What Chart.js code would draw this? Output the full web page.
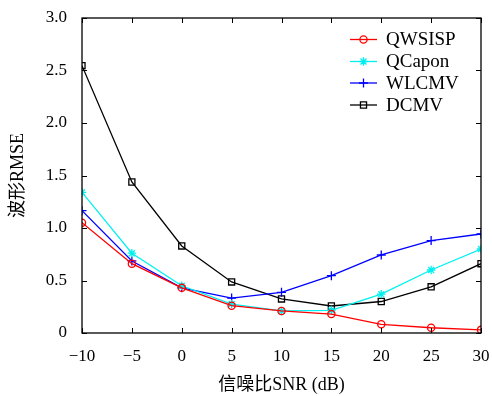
<!DOCTYPE html>
<html><head><meta charset="utf-8">
<script src="https://cdn.jsdelivr.net/npm/chart.js@4/dist/chart.umd.min.js"></script>
<style>html,body{margin:0;padding:0;background:#fff}#wrap{width:492px;height:396px}</style>
</head><body><div id="wrap"><canvas id="c" width="492" height="396"></canvas></div>
<script>
const snr = [-10, -5, 0, 5, 10, 15, 20, 25, 30];
const qwsisp = [1.05, 0.66, 0.43, 0.26, 0.21, 0.18, 0.083, 0.05, 0.03];
const qcapon = [1.34, 0.76, 0.45, 0.276, 0.21, 0.215, 0.37, 0.60, 0.80];
const wlcmv  = [1.165, 0.686, 0.43, 0.333, 0.387, 0.546, 0.743, 0.88, 0.943];
const dcmv   = [2.546, 1.438, 0.829, 0.486, 0.324, 0.257, 0.30, 0.44, 0.66];
const xTickLabels = ['\u221210', '\u22125', '0', '5', '10', '15', '20', '25', '30'];
const yTickLabels = ['0', '0.5', '1.0', '1.5', '2.0', '2.5', '3.0'];
const seriesNames = ['QWSISP', 'QCapon', 'WLCMV', 'DCMV'];

const FONT = "'Liberation Serif','DejaVu Serif',serif";
const CJK = "'Liberation Serif','Noto Sans CJK SC',serif";

function mk(name, vals, color, style, r) {
  return {
    label: name,
    data: snr.map((x, i) => ({x: x, y: vals[i]})),
    borderColor: color, backgroundColor: 'rgba(0,0,0,0)',
    borderWidth: 1.3, pointStyle: style, pointRadius: r, pointHoverRadius: r,
    pointBorderColor: color, pointBackgroundColor: 'rgba(0,0,0,0)', pointBorderWidth: 1.3,
    tension: 0, fill: false
  };
}

const frame = {
  id: 'frame',
  afterDraw(chart) {
    const ctx = chart.ctx, a = chart.chartArea;
    const xs = chart.scales.x, ys = chart.scales.y;
    ctx.save();
    ctx.strokeStyle = '#000'; ctx.lineWidth = 1.3;
    ctx.strokeRect(a.left, a.top, a.right - a.left, a.bottom - a.top);
    ctx.lineWidth = 1;
    const L = 5;
    xs.ticks.forEach(t => {
      const p = Math.round(xs.getPixelForValue(t.value)) + 0.5;
      ctx.beginPath();
      ctx.moveTo(p, a.bottom); ctx.lineTo(p, a.bottom - L);
      ctx.moveTo(p, a.top); ctx.lineTo(p, a.top + L);
      ctx.stroke();
    });
    ys.ticks.forEach(t => {
      const p = Math.round(ys.getPixelForValue(t.value)) + 0.5;
      ctx.beginPath();
      ctx.moveTo(a.left, p); ctx.lineTo(a.left + L, p);
      ctx.moveTo(a.right, p); ctx.lineTo(a.right - L, p);
      ctx.stroke();
    });
    // legend
    const lx0 = 350, lx1 = 377, tx = 386, rows = [39.5, 61.5, 83, 105];
    ctx.font = '19px ' + FONT;
    ctx.textBaseline = 'middle';
    chart.data.datasets.forEach((ds, i) => {
      const y = rows[i];
      ctx.strokeStyle = ds.borderColor; ctx.lineWidth = 1.3;
      ctx.beginPath(); ctx.moveTo(lx0, y); ctx.lineTo(lx1, y); ctx.stroke();
      ctx.fillStyle = 'rgba(0,0,0,0)';
      Chart.helpers.drawPoint(ctx, {pointStyle: ds.pointStyle, radius: ds.pointRadius, rotation: 0, borderWidth: 1.3}, (lx0 + lx1) / 2, y);
      ctx.fillStyle = '#000';
      ctx.fillText(seriesNames[i], tx, y + 1);
    });
    ctx.restore();
  }
};

new Chart(document.getElementById('c'), {
  type: 'line',
  data: { datasets: [
    mk(seriesNames[0], qwsisp, '#ff0000', 'circle', 3.6),
    mk(seriesNames[1], qcapon, '#00f0f0', 'star', 4.2),
    mk(seriesNames[2], wlcmv, '#0000ff', 'cross', 4.5),
    mk(seriesNames[3], dcmv, '#000000', 'rect', 4.3)
  ]},
  options: {
    responsive: false, animation: false, devicePixelRatio: 1,
    layout: { padding: { left: 0, right: 11, top: 18, bottom: 0 } },
    plugins: { legend: { display: false }, tooltip: { enabled: false } },
    scales: {
      x: {
        type: 'linear', min: -10, max: 30,
        afterBuildTicks(s) { s.ticks = snr.map(v => ({value: v})); },
        afterFit(s) { s.height = 63; s.paddingLeft = 0; s.paddingRight = 0; },
        grid: { display: false, drawTicks: false },
        border: { display: false },
        ticks: { color: '#000', font: { family: FONT, size: 17 }, padding: 13, maxRotation: 0,
          callback: (v, i) => xTickLabels[i] },
        title: { display: true, text: '信噪比SNR (dB)', color: '#000', font: { family: CJK, size: 18 }, padding: { top: 4, bottom: 0 } }
      },
      y: {
        type: 'linear', min: 0, max: 3,
        afterBuildTicks(s) { s.ticks = yTickLabels.map((l, i) => ({value: i * 0.5})); },
        afterFit(s) { s.width = 82; s.paddingTop = 0; s.paddingBottom = 0; },
        grid: { display: false, drawTicks: false },
        border: { display: false },
        ticks: { color: '#000', font: { family: FONT, size: 17 }, padding: 15,
          callback: (v, i) => yTickLabels[i] },
        title: { display: true, text: '波形RMSE', color: '#000', font: { family: CJK, size: 18 }, padding: { top: 7, bottom: 4 } }
      }
    }
  },
  plugins: [frame]
});
</script>
</body></html>
